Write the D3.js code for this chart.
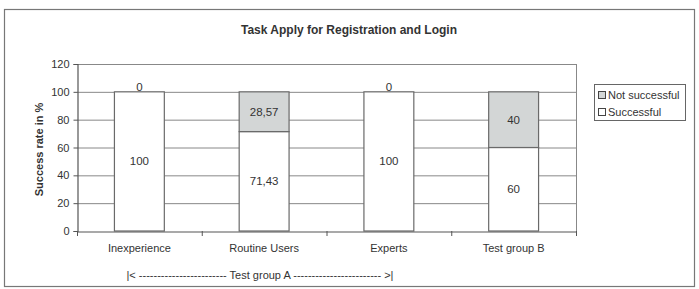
<!DOCTYPE html>
<html><head><meta charset="utf-8">
<script src="https://cdn.jsdelivr.net/npm/d3@7"></script>
<style>body{margin:0;background:#fff}svg{display:block;font-family:"Liberation Sans",Arial,sans-serif}</style>
</head><body><svg id="c" width="699" height="289"></svg>
<script>
const categories = ["Inexperience", "Routine Users", "Experts", "Test group B"];
const successful = [100, 71.43, 100, 60];
const notSuccessful = [0, 28.57, 0, 40];
const yTicks = [0, 20, 40, 60, 80, 100, 120];
const seriesNames = ["Not successful", "Successful"];
const title = "Task Apply for Registration and Login";
const yTitle = "Success rate in %";
const groupNote = "|< ------------------------ Test group A ------------------------ >|";

const svg = d3.select("#c");
const m = {l: 77, r: 576, t: 64, b: 231};
const txt = "#333";
const ff = "Liberation Sans, Arial, sans-serif";
const fmt = v => String(v).replace(".", ",");

svg.append("rect").attr("x", 4.5).attr("y", 9.5).attr("width", 690).attr("height", 277)
  .attr("fill", "#fff").attr("stroke", "#777").attr("stroke-width", 1.2);

const x = d3.scaleBand().domain(categories).range([m.l, m.r]);
const y = d3.scaleLinear().domain([0, 120]).range([m.b, m.t]);

// gridlines
svg.append("g").selectAll("line").data(yTicks.filter(d => d > 0)).join("line")
  .attr("x1", m.l).attr("x2", m.r).attr("y1", d => y(d) + 0.5).attr("y2", d => y(d) + 0.5)
  .attr("stroke", "#888").attr("stroke-width", 1);
svg.append("line").attr("x1", m.r + 0.5).attr("x2", m.r + 0.5).attr("y1", m.t).attr("y2", m.b)
  .attr("stroke", "#888");

// bars
const bw = x.bandwidth() * 0.4;
const cx = d => x(d) + x.bandwidth() / 2;
const g = svg.append("g");
categories.forEach((c, i) => {
  g.append("rect").attr("x", cx(c) - bw / 2).attr("y", y(successful[i]))
    .attr("width", bw).attr("height", y(0) - y(successful[i]))
    .attr("fill", "#fff").attr("stroke", "#6a6a6a").attr("stroke-width", 1.2);
  if (notSuccessful[i] > 0) {
    g.append("rect").attr("x", cx(c) - bw / 2).attr("y", y(successful[i] + notSuccessful[i]))
      .attr("width", bw).attr("height", y(successful[i]) - y(successful[i] + notSuccessful[i]))
      .attr("fill", "#d3d6d6").attr("stroke", "#6a6a6a").attr("stroke-width", 1.2);
  }
  g.append("text").attr("x", cx(c)).attr("y", y(successful[i] / 2) + 4)
    .attr("text-anchor", "middle").attr("font-size", 11.5).attr("fill", txt).text(fmt(successful[i]));
  const top = successful[i] + notSuccessful[i];
  const ly = notSuccessful[i] > 0 ? y(successful[i] + notSuccessful[i] / 2) + 4 : y(top) - 1;
  g.append("text").attr("x", cx(c)).attr("y", ly)
    .attr("text-anchor", "middle").attr("font-size", 11.5).attr("fill", txt).text(fmt(notSuccessful[i]));
});

// axes
const ya = svg.append("g").attr("transform", `translate(${m.l + 0.5},0)`)
  .call(d3.axisLeft(y).tickValues(yTicks).tickSize(4).tickPadding(4));
ya.select(".domain").attr("stroke", "#555").attr("stroke-width", 1.2);
ya.selectAll(".tick line").attr("stroke", "#555");
ya.selectAll("text").attr("font-size", 11).attr("fill", txt).attr("font-family", ff);

const xa = svg.append("g").attr("transform", `translate(0,${m.b + 0.5})`)
  .call(d3.axisBottom(x).tickSize(0).tickPadding(13));
xa.select(".domain").attr("stroke", "#555").attr("stroke-width", 1.2);
xa.selectAll("text").attr("font-size", 11).attr("fill", txt).attr("font-family", ff);
const seps = categories.map(c => x(c)).concat([m.r]);
svg.append("g").selectAll("line").data(seps).join("line")
  .attr("x1", d => d + 0.5).attr("x2", d => d + 0.5).attr("y1", m.b).attr("y2", m.b + 5)
  .attr("stroke", "#555");

// titles
svg.append("text").attr("x", 349).attr("y", 34).attr("text-anchor", "middle")
  .attr("font-size", 12).attr("font-weight", "bold").attr("fill", txt).text(title);
svg.append("text").attr("transform", `translate(43,${(m.t + m.b) / 2 + 2}) rotate(-90)`)
  .attr("text-anchor", "middle").attr("font-size", 11).attr("font-weight", "bold").attr("fill", txt).text(yTitle);
svg.append("text").attr("x", 260).attr("y", 279).attr("text-anchor", "middle")
  .attr("font-size", 11).attr("fill", txt).text(groupNote);

// legend
const lg = svg.append("g");
lg.append("rect").attr("x", 594.5).attr("y", 84.5).attr("width", 91).attr("height", 36)
  .attr("fill", "#fff").attr("stroke", "#666");
const lfill = ["#d3d6d6", "#fff"];
seriesNames.forEach((s, i) => {
  lg.append("rect").attr("x", 598.5).attr("y", 91.5 + i * 17).attr("width", 7).attr("height", 7)
    .attr("fill", lfill[i]).attr("stroke", "#444");
  lg.append("text").attr("x", 608).attr("y", 99 + i * 17).attr("font-size", 11).attr("fill", txt).text(s);
});
</script></body></html>
